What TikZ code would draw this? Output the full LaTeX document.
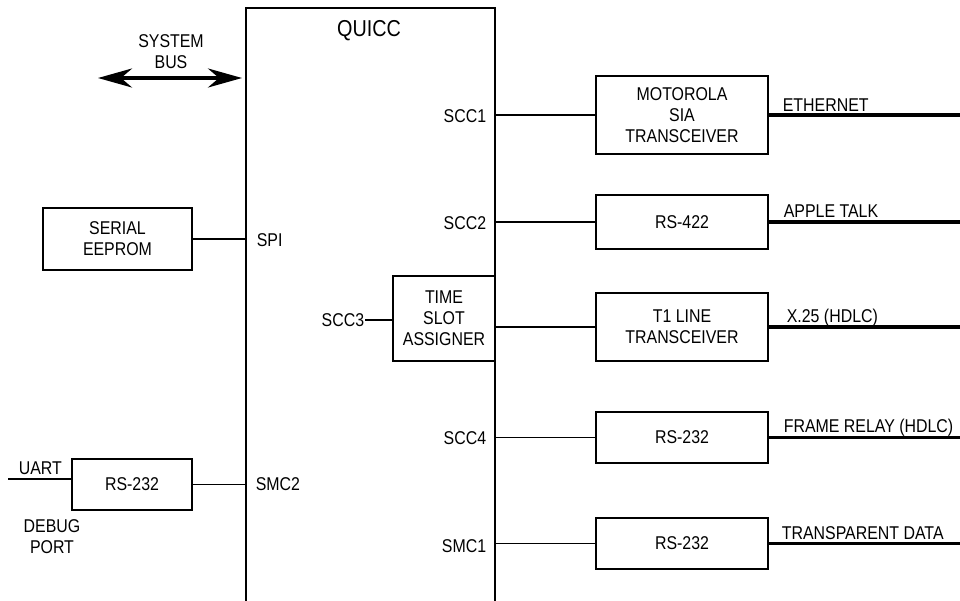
\documentclass[tikz,border=0pt]{standalone}
\usepackage{fontspec}
\setmainfont{Liberation Sans}[FakeStretch=0.86]
\usetikzlibrary{arrows.meta,positioning}

\begin{document}
\begin{tikzpicture}
  [x=1pt, y=-1pt, line width=1.7pt, font=\fontsize{18.5}{21}\selectfont,
   block/.style={draw, line width=2pt, align=center, minimum width=172pt},
   port/.style={inner sep=0pt},
   wire/.style={line width=3.4pt},
   bus/.style={line width=3.6pt,
     {Stealth[length=34pt,width=19pt,inset=11pt]}-{Stealth[length=34pt,width=19pt,inset=11pt]}}]
  \useasboundingbox (0,0) rectangle (960,600);
  \coordinate (rim) at (960,0);

  % the chip, open at the bottom
  \node [name=quicc, draw, line width=2pt, inner sep=0pt,
         minimum width=249pt, minimum height=612pt] at (370.5,314) {};
  \node [name=title, font=\fontsize{23}{26}\selectfont] at (369,30.5) {QUICC};
  \node [name=tsa, block, minimum width=102pt, minimum height=85pt] at (444,318.5) {TIME\\SLOT\\ASSIGNER};

  % ports
  \node [name=scc1, port, anchor=east] at (487,116) {SCC1};
  \node [name=scc2, port, anchor=east] at (487,223) {SCC2};
  \node [name=scc3, port, anchor=east] at (365,320) {SCC3};
  \node [name=scc4, port, anchor=east] at (487,438) {SCC4};
  \node [name=smc1, port, anchor=east] at (487,546) {SMC1};
  \node [name=spi, port, anchor=west] at (256,240) {SPI};
  \node [name=smc2, port, anchor=west] at (255,484) {SMC2};

  % left side
  \node [name=buslabel, align=center] at (171,51.5) {SYSTEM\\BUS};
  \coordinate (bus) at (98,78);
  \node [name=eeprom, block, minimum width=149pt, minimum height=62pt] at (117.5,239) {SERIAL\\EEPROM};
  \node [name=debug, block, minimum width=120pt, minimum height=51pt] at (132,484.5) {RS-232};
  \coordinate (uart) at (8,479);
  \node [name=uartlabel, port, anchor=base west] at (18,474) {UART};
  \node [name=debuglabel, align=center] at (52,537) {DEBUG\\PORT};

  % right side
  \node [name=sia, block, minimum height=78pt] at (682,115) {MOTOROLA\\SIA\\TRANSCEIVER};
  \node [name=rs422, block, minimum height=54pt] at (682,222) {RS-422};
  \node [name=t1, block, minimum height=68pt] at (682,327) {T1 LINE\\TRANSCEIVER};
  \node [name=rsframe, block, minimum height=51pt] at (682,437.5) {RS-232};
  \node [name=rsdata, block, minimum height=51pt] at (682,543.5) {RS-232};

  \node [name=ethernet, port, anchor=base west] at (782,111.5) {ETHERNET};
  \node [name=appletalk, port, anchor=base west] at (783,217.5) {APPLE TALK};
  \node [name=x25, port, anchor=base west] at (786,322) {X.25 (HDLC)};
  \node [name=framerelay, port, anchor=base west] at (783,432.5) {FRAME RELAY (HDLC)};
  \node [name=transparent, port, anchor=base west] at (781,539) {TRANSPARENT DATA};

  \draw [bus, shorten >=3pt] (bus) -- (bus -| quicc.west);

  \path (eeprom.east) edge (eeprom.east -| quicc.west)
        (debug.east) edge (debug.east -| quicc.west)
        (uart) edge (debug.west |- uart)
        (scc3.east) edge (scc3.east -| tsa.west)
        (quicc.east |- sia.west) edge (sia.west)
        (quicc.east |- rs422.west) edge (rs422.west)
        (tsa.east |- t1.west) edge (t1.west)
        (quicc.east |- rsframe.west) edge (rsframe.west)
        (quicc.east |- rsdata.west) edge (rsdata.west);

  \path [wire] (sia.east) edge (sia.east -| rim)
        (rs422.east) edge (rs422.east -| rim)
        (t1.east) edge (t1.east -| rim)
        (rsframe.east) edge (rsframe.east -| rim)
        (rsdata.east) edge (rsdata.east -| rim);
\end{tikzpicture}
\end{document}
